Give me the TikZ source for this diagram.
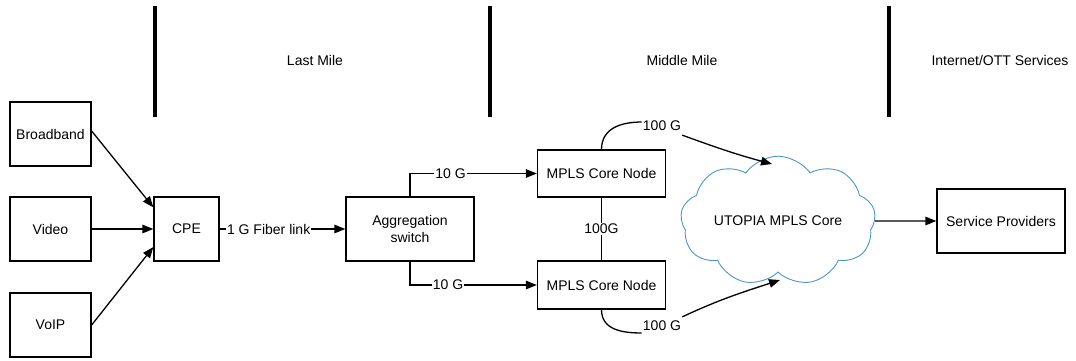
\documentclass[tikz,border=0pt]{standalone}
\usepackage{fontspec}
\setmainfont{Liberation Sans}
\usetikzlibrary{arrows.meta,shapes.symbols}
\definecolor{cloudblue}{RGB}{75,150,200}
\begin{document}
\begin{tikzpicture}[x=1pt,y=-1pt,
  font=\fontsize{14}{17}\selectfont,
  box/.style={draw,line width=1.3pt,inner sep=2pt,align=center},
  lbl/.style={fill=white,inner sep=1pt},
  conn/.style={line width=1.3pt},
  arr/.style={line width=1.3pt,-{Triangle[length=11pt,width=8.5pt]}},
  bar/.style={line width=4pt}]
\useasboundingbox (0,0) rectangle (1076,360);
% section bars
\coordinate (b1t) at (155,6); \coordinate (b1b) at (155,117);
\coordinate (b2t) at (490,6); \coordinate (b2b) at (490,117);
\coordinate (b3t) at (889,6); \coordinate (b3b) at (889,117);
\draw[bar] (b1t) -- (b1b);
\draw[bar] (b2t) -- (b2b);
\draw[bar] (b3t) -- (b3b);
\node (h1) at (315,60) {Last Mile};
\node (h2) at (682,60) {Middle Mile};
\node (h3) at (1000,60) {Internet/OTT Services};
% boxes
\node[box,minimum width=81pt,minimum height=64pt] (bb) at (50.5,134) {Broadband};
\node[box,minimum width=81pt,minimum height=64pt] (video) at (50.5,229) {Video};
\node[box,minimum width=81pt,minimum height=64pt] (voip) at (50.5,325) {VoIP};
\node[box,minimum width=65pt,minimum height=64pt] (cpe) at (186.5,229) {CPE};
\node[box,minimum width=128pt,minimum height=64pt] (agg) at (410,229) {Aggregation\\switch};
\node[box,minimum width=128pt,minimum height=47pt] (m1) at (601.5,173.5) {MPLS Core Node};
\node[box,minimum width=128pt,minimum height=48pt] (m2) at (601.5,285) {MPLS Core Node};
\node[box,minimum width=128pt,minimum height=64pt] (sp) at (1001,221) {Service Providers};
\node[cloud,draw=cloudblue,fill=white,line width=0.9pt,cloud puffs=9,cloud puff arc=110,
      aspect=1.75,minimum width=195pt,minimum height=114pt,inner sep=0pt] (cloud) at (778,221) {UTOPIA MPLS Core};
% connectors
\draw[arr] ([yshift=3pt]bb.east) -- ([yshift=-11pt]cpe.north west);
\draw[arr] (video.east) -- (cpe.west);
\draw[arr] (voip.east) -- ([yshift=-18pt]cpe.west);
\draw[arr] (cpe.east) -- node[lbl,pos=0.39] {1 G Fiber link} (agg.west);
\draw[arr] (agg.north) |- node[lbl,pos=0.66] {10 G} (m1.west);
\draw[arr] (agg.south) |- node[lbl,pos=0.65] {10 G} (m2.west);
\draw[conn] (m1.south) -- node[lbl] {100G} (m2.north);
\node[lbl] (l1) at (662,126) {100 G};
\node[lbl] (l2) at (662,326) {100 G};
\coordinate (ct) at (772,164);
\coordinate (cb) at (780,280);
\draw[conn] (m1.north) to[out=90,in=180,looseness=1.1] ([yshift=4pt]l1.west);
\draw[arr] ([yshift=-3pt]l1.south east) to[out=-20,in=165] (ct);
\draw[conn] (m2.south) to[out=-90,in=180,looseness=1.1] ([yshift=-7pt]l2.west);
\draw[arr] ([yshift=3pt]l2.north east) to[out=25,in=-162] (cb);
\draw[arr] (cloud.east) -- (sp.west);
\end{tikzpicture}
\end{document}
